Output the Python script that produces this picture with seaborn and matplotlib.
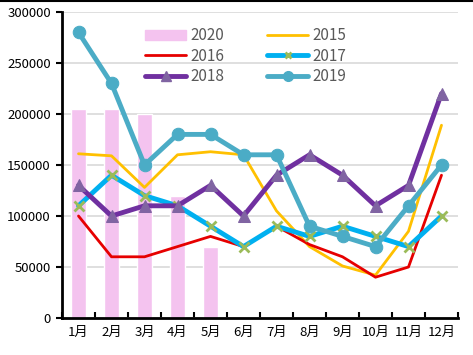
import matplotlib
matplotlib.use("Agg")
import matplotlib.pyplot as plt
import seaborn as sns
import pandas as pd
import numpy as np
from matplotlib.lines import Line2D

months = ["1月", "2月", "3月", "4月", "5月", "6月", "7月", "8月", "9月", "10月", "11月", "12月"]
bar_months = ["1月", "2月", "3月", "4月", "5月"]
v2020 = [205000, 205000, 200000, 120000, 70000]
v2015 = [161000, 159000, 128000, 160000, 163000, 160000, 105000, 70000, 51000, 42000, 85000, 189000]
v2016 = [100000, 60000, 60000, 70000, 80000, 70000, 90000, 72000, 60000, 40000, 50000, 140000]
v2017 = [110000, 140000, 120000, 110000, 90000, 70000, 90000, 80000, 90000, 80000, 70000, 100000]
v2018 = [130000, 100000, 110000, 110000, 130000, 100000, 140000, 160000, 140000, 110000, 130000, 220000]
v2019 = [280000, 230000, 150000, 180000, 180000, 160000, 160000, 90000, 80000, 70000, 110000, 150000]
yticks = [0, 50000, 100000, 150000, 200000, 250000, 300000]

sns.set_theme(style="white")
plt.rcParams['font.family'] = ['Noto Sans CJK SC', 'DejaVu Sans']

fig = plt.figure(figsize=(4.73, 3.55), dpi=100)
ax = fig.add_axes([62/473, 1-318/355, 396/473, 306/355])

bar_df = pd.DataFrame({"month": pd.Categorical(bar_months + months[5:], categories=months),
                       "value": v2020 + [np.nan]*7})
sns.barplot(data=bar_df, x="month", y="value", color="#F4C3EF", width=0.43,
            saturation=1, ax=ax, zorder=1, order=months)

x = np.arange(len(months))
line_specs = [
    ("2015", v2015, dict(color="#FFC000", lw=2.0, marker=None)),
    ("2016", v2016, dict(color="#E60000", lw=2.0, marker=None)),
    ("2017", v2017, dict(color="#00B0F0", lw=3.5, marker="x", ms=7, mec="#9BBB59", mew=2)),
    ("2018", v2018, dict(color="#7030A0", lw=3.5, marker="^", ms=9, mfc="#8064A2", mec="#8064A2")),
    ("2019", v2019, dict(color="#4BACC6", lw=3.5, marker="o", ms=9, mfc="#4BACC6", mec="#4BACC6")),
]
zo = {"2015": 3, "2016": 3, "2017": 4, "2018": 5, "2019": 6}
for name, vals, kw in line_specs:
    sns.lineplot(x=x, y=vals, ax=ax, zorder=zo[name], legend=False, **kw)

ax.set_xlim(-0.5, 11.5)
ax.set_ylim(0, 300000)
ax.set_yticks(yticks)
ax.set_yticklabels([str(t) for t in yticks])
ax.set_xticks(x)
ax.set_xticklabels(months)
ax.set_xlabel("")
ax.set_ylabel("")
ax.yaxis.grid(True, color="#D9D9D9", lw=1.2)
ax.set_axisbelow(True)
for s in ["top", "right"]:
    ax.spines[s].set_visible(False)
for s in ["left", "bottom"]:
    ax.spines[s].set_color("black")
    ax.spines[s].set_linewidth(2)
ax.tick_params(axis="y", which="major", length=4, width=1.5, direction="out", left=True,
               labelsize=9.5, pad=4, colors="black")
ax.tick_params(axis="x", which="major", length=0, labelsize=9.5, pad=6, colors="black")
ax.set_xticks(np.arange(-0.5, 12, 1), minor=True)
ax.tick_params(axis="x", which="minor", length=4, width=1.5, direction="in", bottom=True, color="black")

handles = [
    plt.Rectangle((0, 0), 1, 1, color="#F4C3EF"),
    Line2D([], [], color="#E60000", lw=2.0),
    Line2D([], [], color="#7030A0", lw=3.5, marker="^", ms=7, mfc="#8064A2", mec="#8064A2"),
    Line2D([], [], color="#FFC000", lw=2.0),
    Line2D([], [], color="#00B0F0", lw=3.5, marker="x", ms=5, mec="#9BBB59", mew=2),
    Line2D([], [], color="#4BACC6", lw=3.5, marker="o", ms=7, mfc="#4BACC6", mec="#4BACC6"),
]
labels = ["2020", "2016", "2018", "2015", "2017", "2019"]
leg = ax.legend(handles, labels, ncol=2, loc="upper left", bbox_to_anchor=(0.175, 0.995),
                frameon=False, fontsize=11, handlelength=2.7, handleheight=0.7,
                labelspacing=0.22, columnspacing=2.8, handletextpad=0.25,
                borderaxespad=0.5)
for t in leg.get_texts():
    t.set_color("#595959")

fig.add_artist(Line2D([0, 1], [1 - 0.5/355, 1 - 0.5/355], color="black", lw=1.5, transform=fig.transFigure))

fig.savefig("out.png", dpi=100, facecolor="white")
